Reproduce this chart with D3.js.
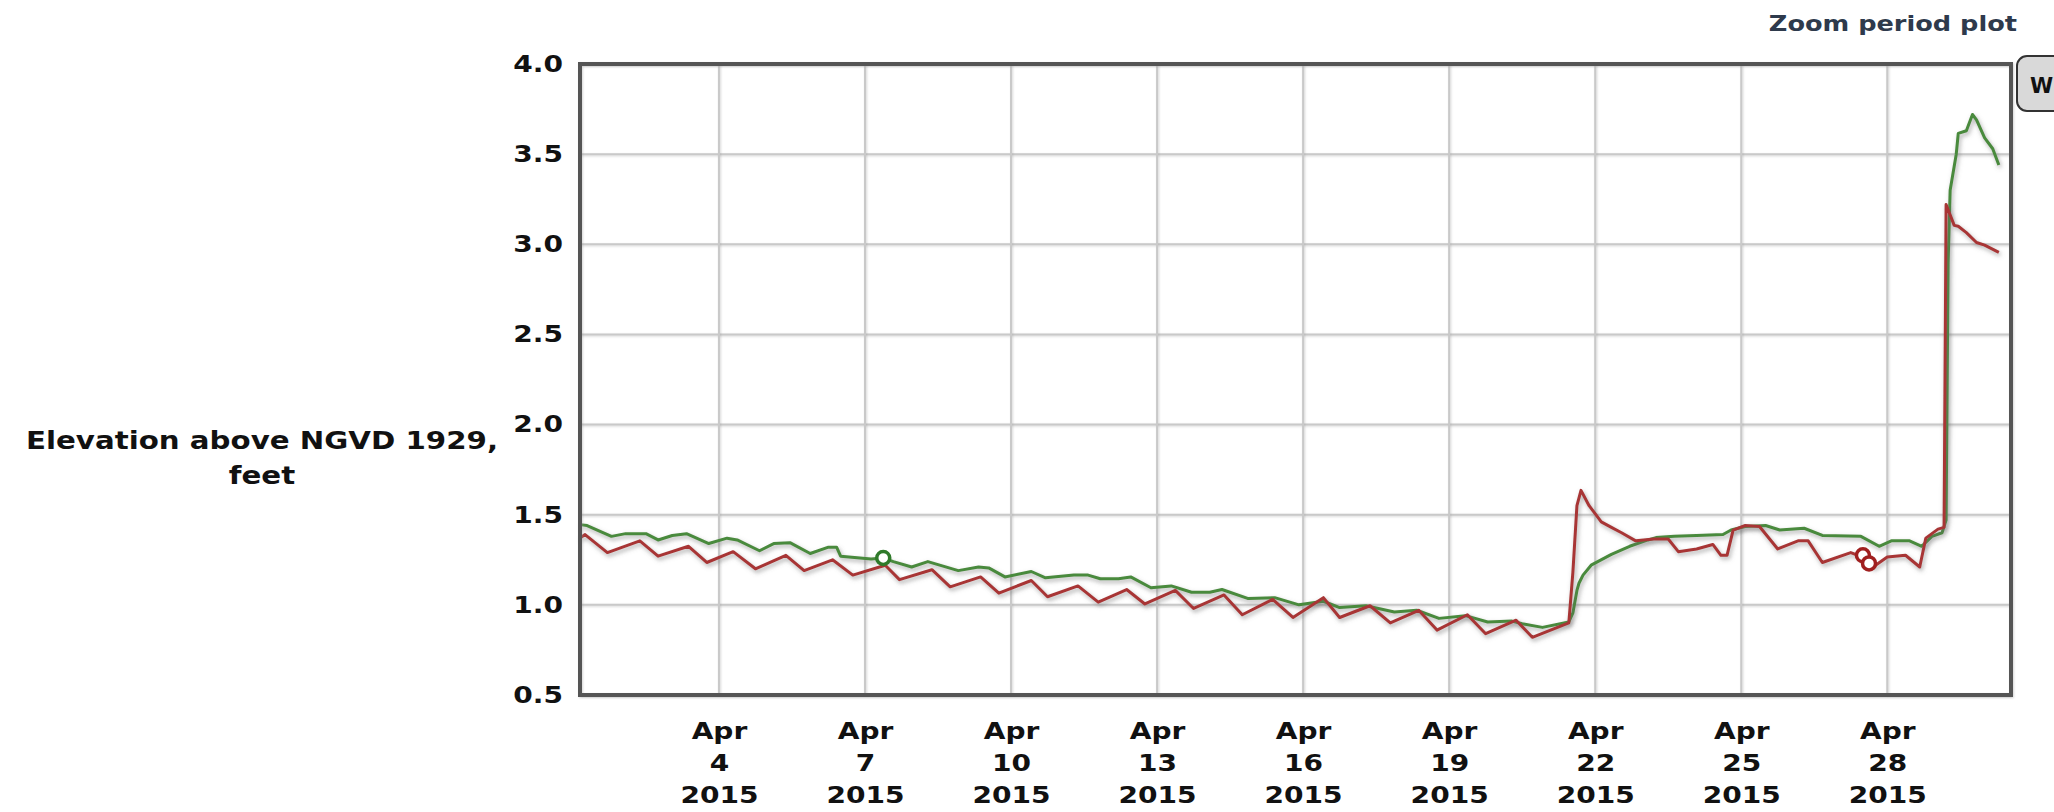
<!DOCTYPE html>
<html>
<head>
<meta charset="utf-8">
<script src="https://cdn.jsdelivr.net/npm/d3@7"></script>
<style>
  body { margin: 0; background: #fff; }
  svg { display: block; font-family: "DejaVu Sans", Verdana, sans-serif; }
</style>
</head>
<body>
<svg id="chart" width="2054" height="812"></svg>
<script>
// water level, two gauges, readings picked off the plot
var redTimes = [
  "2015-04-01 03:30","2015-04-01 06:00","2015-04-01 17:00",
  "2015-04-02 09:00","2015-04-02 18:00",
  "2015-04-03 09:00","2015-04-03 18:00",
  "2015-04-04 07:00","2015-04-04 18:00",
  "2015-04-05 09:00","2015-04-05 18:00",
  "2015-04-06 08:00","2015-04-06 18:00",
  "2015-04-07 10:00","2015-04-07 17:00",
  "2015-04-08 09:00","2015-04-08 18:00",
  "2015-04-09 09:00","2015-04-09 18:00",
  "2015-04-10 10:00","2015-04-10 18:00",
  "2015-04-11 09:00","2015-04-11 19:00",
  "2015-04-12 09:00","2015-04-12 18:00",
  "2015-04-13 09:00","2015-04-13 18:00",
  "2015-04-14 09:00","2015-04-14 18:00",
  "2015-04-15 09:00","2015-04-15 19:00",
  "2015-04-16 10:00","2015-04-16 18:00",
  "2015-04-17 09:00","2015-04-17 19:00",
  "2015-04-18 09:00","2015-04-18 18:00",
  "2015-04-19 09:00","2015-04-19 18:00",
  "2015-04-20 09:00","2015-04-20 17:00",
  "2015-04-21 11:00","2015-04-21 13:00","2015-04-21 15:00","2015-04-21 17:00","2015-04-21 21:00",
  "2015-04-22 03:00","2015-04-22 08:00","2015-04-22 13:00","2015-04-22 20:00",
  "2015-04-23 05:00","2015-04-23 12:00","2015-04-23 17:00",
  "2015-04-24 02:00","2015-04-24 10:00","2015-04-24 14:00","2015-04-24 17:00","2015-04-24 20:00",
  "2015-04-25 02:00","2015-04-25 09:00","2015-04-25 18:00",
  "2015-04-26 04:00","2015-04-26 09:00","2015-04-26 16:00",
  "2015-04-27 06:00","2015-04-27 12:00","2015-04-27 17:00",
  "2015-04-28 00:00","2015-04-28 09:00","2015-04-28 16:00","2015-04-28 19:00",
  "2015-04-29 01:00","2015-04-29 04:00","2015-04-29 05:00","2015-04-29 09:00","2015-04-29 11:00","2015-04-29 15:00","2015-04-29 20:00",
  "2015-04-30 00:00","2015-04-30 07:00"
];
var redLevels = [
  1.37, 1.39, 1.29,
  1.355, 1.27,
  1.325, 1.235,
  1.295, 1.20,
  1.275, 1.19,
  1.25, 1.165,
  1.22, 1.14,
  1.195, 1.10,
  1.155, 1.065,
  1.135, 1.045,
  1.105, 1.015,
  1.085, 1.005,
  1.08, 0.98,
  1.055, 0.945,
  1.03, 0.93,
  1.04, 0.93,
  0.995, 0.90,
  0.97, 0.86,
  0.945, 0.84,
  0.915, 0.82,
  0.90, 1.18, 1.55, 1.635, 1.55,
  1.46, 1.43, 1.40, 1.355,
  1.365, 1.365, 1.295,
  1.31, 1.335, 1.275, 1.275, 1.415,
  1.44, 1.435, 1.31,
  1.355, 1.355, 1.235,
  1.29, 1.265, 1.21,
  1.265, 1.275, 1.21, 1.37,
  1.42, 1.43, 3.22, 3.105, 3.10, 3.065, 3.01,
  2.995, 2.955
];

var greenTimes = [
  "2015-04-01 03:30","2015-04-01 07:00","2015-04-01 19:00",
  "2015-04-02 02:00","2015-04-02 12:00","2015-04-02 18:00",
  "2015-04-03 01:00","2015-04-03 08:00","2015-04-03 19:00",
  "2015-04-04 04:00","2015-04-04 09:00","2015-04-04 20:00",
  "2015-04-05 03:00","2015-04-05 11:00","2015-04-05 21:00",
  "2015-04-06 06:00","2015-04-06 10:00","2015-04-06 12:00",
  "2015-04-07 03:00","2015-04-07 09:00","2015-04-07 14:00","2015-04-07 23:00",
  "2015-04-08 07:00","2015-04-08 22:00",
  "2015-04-09 08:00","2015-04-09 13:00","2015-04-09 21:00",
  "2015-04-10 10:00","2015-04-10 17:00",
  "2015-04-11 07:00","2015-04-11 14:00","2015-04-11 20:00",
  "2015-04-12 05:00","2015-04-12 11:00","2015-04-12 21:00",
  "2015-04-13 07:00","2015-04-13 17:00",
  "2015-04-14 02:00","2015-04-14 08:00","2015-04-14 21:00",
  "2015-04-15 10:00","2015-04-15 22:00",
  "2015-04-16 10:00","2015-04-16 18:00",
  "2015-04-17 07:00","2015-04-17 21:00",
  "2015-04-18 08:00","2015-04-18 19:00",
  "2015-04-19 08:00","2015-04-19 19:00",
  "2015-04-20 07:00","2015-04-20 12:00","2015-04-20 22:00",
  "2015-04-21 11:00","2015-04-21 13:00","2015-04-21 15:00","2015-04-21 16:00","2015-04-21 18:00","2015-04-21 22:00",
  "2015-04-22 08:00","2015-04-22 17:00",
  "2015-04-23 02:00","2015-04-23 06:00","2015-04-23 15:00",
  "2015-04-24 02:00","2015-04-24 15:00","2015-04-24 19:00",
  "2015-04-25 02:00","2015-04-25 12:00","2015-04-25 19:00",
  "2015-04-26 07:00","2015-04-26 16:00",
  "2015-04-27 11:00","2015-04-27 20:00",
  "2015-04-28 02:00","2015-04-28 11:00","2015-04-28 17:00","2015-04-28 22:00",
  "2015-04-29 03:00","2015-04-29 05:00","2015-04-29 06:00","2015-04-29 07:00","2015-04-29 10:00","2015-04-29 11:00","2015-04-29 15:00","2015-04-29 18:00","2015-04-29 20:00",
  "2015-04-30 00:00","2015-04-30 04:00","2015-04-30 07:00"
];
var greenLevels = [
  1.445, 1.44, 1.38,
  1.395, 1.395, 1.36,
  1.385, 1.395, 1.34,
  1.37, 1.36, 1.30,
  1.34, 1.345, 1.285,
  1.32, 1.32, 1.27,
  1.255, 1.26, 1.24, 1.21,
  1.24, 1.19,
  1.21, 1.205, 1.155,
  1.185, 1.15,
  1.165, 1.165, 1.145,
  1.145, 1.155, 1.095,
  1.105, 1.07,
  1.07, 1.085, 1.035,
  1.04, 1.00,
  1.02, 0.985,
  0.995, 0.96,
  0.97, 0.925,
  0.94, 0.905,
  0.91, 0.895, 0.875,
  0.905, 0.955, 1.08, 1.12, 1.165, 1.22,
  1.28, 1.325,
  1.36, 1.373, 1.38,
  1.385, 1.39, 1.415,
  1.435, 1.44, 1.415,
  1.425, 1.385,
  1.38, 1.325,
  1.355, 1.355, 1.325, 1.38,
  1.40, 1.47, 2.9, 3.3, 3.5, 3.615, 3.63, 3.72, 3.69,
  3.59, 3.53, 3.44
];

// open circles sitting on the lines
var greenMarkTimes = ["2015-04-07 09:00"];
var greenMarkLevels = [1.26];
var redMarkTimes = ["2015-04-27 12:00", "2015-04-27 15:00"];
var redMarkLevels = [1.275, 1.23];

var yTicks = [0.5, 1.0, 1.5, 2.0, 2.5, 3.0, 3.5, 4.0];
var xTickDates = ["2015-04-04","2015-04-07","2015-04-10","2015-04-13","2015-04-16",
                  "2015-04-19","2015-04-22","2015-04-25","2015-04-28"];

var parseTime = d3.timeParse("%Y-%m-%d %H:%M");
var parseDay = d3.timeParse("%Y-%m-%d");

function zipSeries(times, levels){
  return times.map(function(t, i){ return {date: parseTime(t), value: levels[i]}; });
}

var redData = zipSeries(redTimes, redLevels);
var greenData = zipSeries(greenTimes, greenLevels);

var m = {top: 64, left: 580, width: 1431, height: 631};
var SX = 1.22; // the labels in the original are drawn wide

var svg = d3.select("#chart");

var x = d3.scaleTime()
  .domain([parseTime("2015-04-01 03:30"), parseTime("2015-04-30 13:00")])
  .range([0, m.width]);
var y = d3.scaleLinear().domain([0.5, 4.0]).range([m.height, 0]);

var defs = svg.append("defs");
var shadow = defs.append("filter").attr("id", "shadow")
  .attr("x", "-5%").attr("y", "-5%").attr("width", "110%").attr("height", "110%");
shadow.append("feDropShadow")
  .attr("dx", 1.5).attr("dy", 2.5).attr("stdDeviation", 2)
  .attr("flood-color", "#666").attr("flood-opacity", 0.55);

var soft = defs.append("filter").attr("id", "soft")
  .attr("x", "-2%").attr("y", "-2%").attr("width", "104%").attr("height", "104%");
soft.append("feDropShadow")
  .attr("dx", 1).attr("dy", 1).attr("stdDeviation", 1)
  .attr("flood-color", "#999").attr("flood-opacity", 0.4);

var graph = svg.append("g")
  .attr("transform", "translate(" + m.left + "," + m.top + ")");

// grid
var xTicks = xTickDates.map(parseDay);

graph.append("g").attr("filter", "url(#soft)")
  .selectAll("line").data(yTicks).join("line")
  .attr("x1", 0).attr("x2", m.width)
  .attr("y1", function(d){ return y(d); }).attr("y2", function(d){ return y(d); })
  .attr("stroke", "#c9c9c9").attr("stroke-width", 2);

graph.append("g").attr("filter", "url(#soft)")
  .selectAll("line").data(xTicks).join("line")
  .attr("y1", 0).attr("y2", m.height)
  .attr("x1", function(d){ return x(d); }).attr("x2", function(d){ return x(d); })
  .attr("stroke", "#c9c9c9").attr("stroke-width", 2);

// series
var line = d3.line()
  .x(function(d){ return x(d.date); })
  .y(function(d){ return y(d.value); });

graph.append("path").datum(greenData)
  .attr("d", line)
  .attr("fill", "none").attr("stroke", "#4a8a3c").attr("stroke-width", 3)
  .attr("stroke-linejoin", "round")
  .attr("filter", "url(#shadow)");

graph.append("path").datum(redData)
  .attr("d", line)
  .attr("fill", "none").attr("stroke", "#a83636").attr("stroke-width", 3)
  .attr("stroke-linejoin", "round")
  .attr("filter", "url(#shadow)");

graph.append("g").selectAll("circle").data(zipSeries(greenMarkTimes, greenMarkLevels)).join("circle")
  .attr("cx", function(d){ return x(d.date); })
  .attr("cy", function(d){ return y(d.value); })
  .attr("r", 6.5).attr("fill", "#fff")
  .attr("stroke", "#2f7a2a").attr("stroke-width", 3.5);

graph.append("g").selectAll("circle").data(zipSeries(redMarkTimes, redMarkLevels)).join("circle")
  .attr("cx", function(d){ return x(d.date); })
  .attr("cy", function(d){ return y(d.value); })
  .attr("r", 6.5).attr("fill", "#fff")
  .attr("stroke", "#a01f1f").attr("stroke-width", 3.5);

// frame
graph.append("rect")
  .attr("x", 0).attr("y", 0).attr("width", m.width).attr("height", m.height)
  .attr("fill", "none").attr("stroke", "#555").attr("stroke-width", 4)
  .attr("filter", "url(#soft)");

// axes
var yAxis = d3.axisLeft(y).tickValues(yTicks).tickFormat(d3.format(".1f")).tickSize(0);
var yg = graph.append("g").call(yAxis);
yg.select(".domain").remove();
yg.selectAll(".tick text")
  .attr("x", 0)
  .attr("transform", "translate(-17,0) scale(" + SX + ",1)")
  .attr("font-size", 23).attr("font-weight", "bold").attr("fill", "#111")
  .attr("font-family", "DejaVu Sans, Verdana, sans-serif");

var xAxis = d3.axisBottom(x).tickValues(xTicks).tickSize(0).tickFormat("");
var xg = graph.append("g").attr("transform", "translate(0," + m.height + ")").call(xAxis);
xg.select(".domain").remove();
var fmts = [d3.timeFormat("%b"), d3.timeFormat("%-d"), d3.timeFormat("%Y")];
xg.selectAll(".tick text").each(function(d){
  var t = d3.select(this).attr("y", 0).attr("dy", null)
    .attr("transform", "scale(" + SX + ",1)")
    .attr("font-size", 23).attr("font-weight", "bold").attr("fill", "#111")
    .attr("font-family", "DejaVu Sans, Verdana, sans-serif");
  fmts.forEach(function(f, i){
    t.append("tspan").attr("x", 0).attr("y", 44 + i * 32).text(f(d));
  });
});

// y title
var ytitle = svg.append("text")
  .attr("transform", "translate(262,0) scale(" + SX + ",1)")
  .attr("text-anchor", "middle").attr("font-size", 24).attr("font-weight", "bold")
  .attr("fill", "#111");
ytitle.append("tspan").attr("x", 0).attr("y", 449).text("Elevation above NGVD 1929,");
ytitle.append("tspan").attr("x", 0).attr("y", 484).text("feet");

// zoom link and cut-off button at top right
svg.append("text")
  .attr("transform", "translate(2017,31) scale(" + SX + ",1)")
  .attr("text-anchor", "end")
  .attr("font-size", 21).attr("font-weight", "bold").attr("fill", "#2e3a4c")
  .text("Zoom period plot");

svg.append("rect")
  .attr("x", 2017).attr("y", 56).attr("width", 70).attr("height", 55).attr("rx", 10)
  .attr("fill", "#d9d9d9").attr("stroke", "#333").attr("stroke-width", 2);
svg.append("text")
  .attr("x", 2030).attr("y", 93)
  .attr("font-size", 21).attr("font-weight", "bold").attr("fill", "#111")
  .text("W");
</script>
</body>
</html>
